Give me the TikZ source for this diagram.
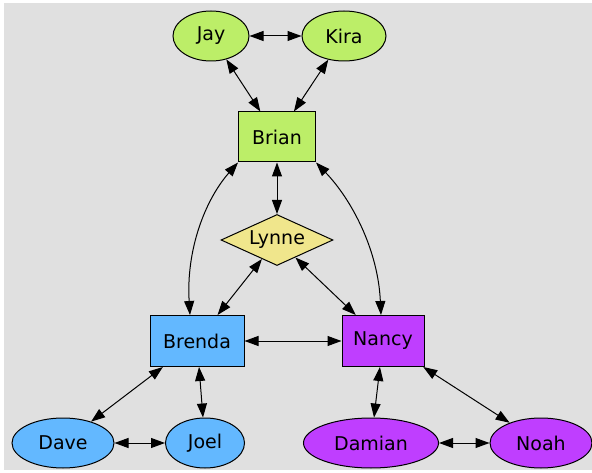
\documentclass[tikz,border=0pt]{standalone}
\usepackage{fontspec}
\setmainfont{DejaVu Sans}
\usetikzlibrary{shapes.geometric,arrows.meta,positioning}
\definecolor{leafgreen}{HTML}{BCEE68}
\definecolor{skyblue}{HTML}{63B8FF}
\definecolor{orchid}{HTML}{BF3EFF}
\definecolor{khaki}{HTML}{F0E68C}
\definecolor{canvas}{HTML}{E0E0E0}
\tikzstyle{arrow} = [line width=1pt,{Triangle[length=14pt,width=10pt]}-{Triangle[length=14pt,width=10pt]}]
\tikzstyle{person} = [draw,line width=1pt,inner sep=0pt,font=\fontsize{19}{22}\selectfont]

\begin{document}
\begin{tikzpicture}[x=1pt,y=-1pt]
\tikzset{oval/.style={person,ellipse,minimum height=50pt},
    box/.style={person,rectangle,minimum height=51pt}}
\useasboundingbox (0,0) rectangle (592,473);
\fill[canvas] (4,3) rectangle (592,470);

\node[oval,fill=leafgreen,minimum width=76pt] (jay) at (211,36) {Jay};
\node[oval,fill=leafgreen,minimum width=84pt] (kira) at (344,36) {Kira};
\node[box,fill=leafgreen,minimum width=77pt,minimum height=50pt] (brian) at (277,137) {Brian};
\node[person,diamond,aspect=2.2,fill=khaki,minimum width=112pt,minimum height=51pt] (lynne) at (277,240) {Lynne};
\node[box,fill=skyblue,minimum width=94pt] (brenda) at (197,341) {Brenda};
\node[box,fill=orchid,minimum width=82pt] (nancy) at (383,341) {Nancy};
\node[oval,fill=skyblue,minimum width=102pt] (dave) at (63,443) {Dave};
\node[oval,fill=skyblue,minimum width=79pt] (joel) at (205,443) {Joel};
\node[oval,fill=orchid,minimum width=135pt] (damian) at (371,443) {Damian};
\node[oval,fill=orchid,minimum width=102pt] (noah) at (541,443) {Noah};

\draw [arrow] (jay) -- (kira);
\draw [arrow] (jay) -- (brian);
\draw [arrow] (kira) -- (brian);
\draw [arrow] (brian) -- (lynne);
\draw [arrow] (brian.south west) .. controls (205,200) and (186,250) .. ([xshift=-7pt]brenda.north);
\draw [arrow] (brian.south east) .. controls (352,200) and (378,250) .. ([xshift=-2pt]nancy.north);
\draw [arrow] (lynne) -- (brenda);
\draw [arrow] (lynne) -- (nancy);
\draw [arrow] (brenda) -- (nancy);
\draw [arrow] (brenda) -- (dave);
\draw [arrow] (brenda) -- (joel);
\draw [arrow] (dave) -- (joel);
\draw [arrow] (nancy) -- (damian);
\draw [arrow] (nancy) -- (noah);
\draw [arrow] (damian) -- (noah);
\end{tikzpicture}
\end{document}
